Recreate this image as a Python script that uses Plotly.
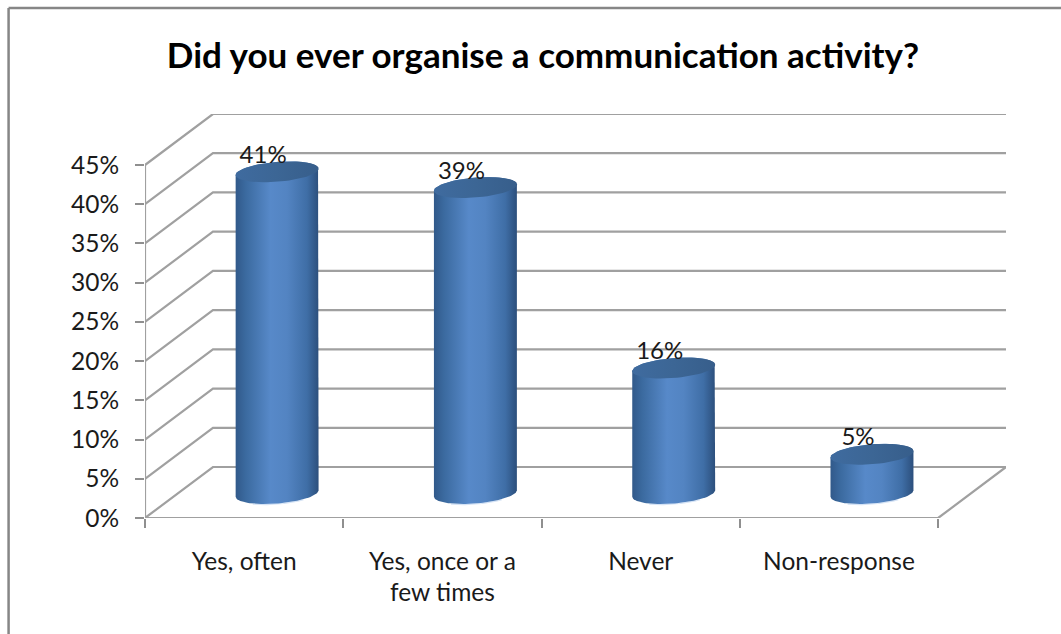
import numpy as np
import plotly.graph_objects as go

# Survey results
categories = ["Yes, often", "Yes, once or a<br>few times", "Never", "Non-response"]
shares = [41, 39, 16, 5]
value_ticks = [0, 5, 10, 15, 20, 25, 30, 35, 40, 45]
value_tick_labels = ["0%", "5%", "10%", "15%", "20%", "25%", "30%", "35%", "40%", "45%"]

FONT = "Lato"
GRID = "#a0a0a0"
WIDTH, HEIGHT = 1061, 634
LEFT, RIGHT, TOP, BOTTOM = 144.5, 55, 114, 116

# Scale of the plotting area, pixels per axis unit
PX_X = 198.4
PX_Y = 353 / 45
plot_w = WIDTH - LEFT - RIGHT
plot_h = HEIGHT - TOP - BOTTOM

# Oblique depth of the floor and back wall, in axis units
DEPTH_X = 68 / PX_X
DEPTH_Y = 51 / PX_Y

# Cylinder cross-section, in axis units
ELL_A = 41.5 / PX_X
ELL_TILT = 3.2 / PX_Y
ELL_B = 10 / PX_Y

fig = go.Figure()


def line(xs, ys, color=GRID, width=2.2):
    fig.add_trace(go.Scatter(x=xs, y=ys, mode="lines", showlegend=False, hoverinfo="skip",
                             line=dict(color=color, width=width), cliponaxis=False))


# Back wall gridlines and the diagonals on the side wall
for v in value_ticks:
    line([0, DEPTH_X, len(categories) + DEPTH_X], [v, v + DEPTH_Y, v + DEPTH_Y])

# Front edge of the floor, right-hand floor edge and the value axis
line([0, len(categories), len(categories) + DEPTH_X], [0, 0, DEPTH_Y])
line([0, 0], [0, 45])

BODY_SCALE = [[0, "#31598a"], [0.12, "#3b6a9f"], [0.42, "#5789c9"], [0.62, "#5384c2"],
              [0.86, "#3f6ea6"], [1, "#2c4f7c"]]


def section(cx, cy, start, stop):
    t = np.linspace(start, stop, 60)
    return cx + ELL_A * np.cos(t), cy + ELL_TILT * np.cos(t) + ELL_B * np.sin(t)


# Cylinders stand in the middle of the floor depth
label_x, label_y = [], []
for i, value in enumerate(shares):
    cx = i + 0.5 + DEPTH_X / 2 - 1 / PX_X
    base = DEPTH_Y / 2 - 1.0 / PX_Y
    top = base + value

    # Light rim under the front of the base
    rx, ry = section(cx, base - 0.08, 1.3 * np.pi, 1.72 * np.pi)
    line(rx, ry, color="#d5e3f5", width=1.2)

    bx, by = section(cx, base, np.pi, 2 * np.pi)
    tx, ty = section(cx, top, 0, np.pi)
    fig.add_trace(go.Scatter(x=np.r_[bx, tx], y=np.r_[by, ty], mode="lines", fill="toself",
                             line=dict(width=0), showlegend=False, hoverinfo="skip",
                             fillgradient=dict(type="horizontal", colorscale=BODY_SCALE)))

    ex, ey = section(cx, top, 0, 2 * np.pi)
    fig.add_trace(go.Scatter(x=ex, y=ey, mode="lines", fill="toself", showlegend=False,
                             hoverinfo="skip", line=dict(width=0),
                             fillgradient=dict(type="horizontal", colorscale=[
                                 [0, "#3f6b9f"], [0.5, "#3c6695"], [1, "#375e8b"]])))

    label_x.append(cx - 14 / PX_X)
    label_y.append(top + 15 / PX_Y)

fig.add_trace(go.Scatter(x=label_x, y=label_y, mode="text", showlegend=False, hoverinfo="skip",
                         text=[f"{v}%" for v in shares], textposition="middle center",
                         textfont=dict(family=FONT, size=24, color="#1a1a1a"), cliponaxis=False))

frame = dict(type="line", xref="paper", yref="paper", line=dict(color="#868686", width=2.5))
left_edge = (8 - LEFT) / plot_w
top_edge = (HEIGHT - BOTTOM - 8) / plot_h
fig.update_layout(
    width=WIDTH, height=HEIGHT, autosize=False,
    margin=dict(l=LEFT, r=RIGHT, t=TOP, b=BOTTOM, pad=0),
    paper_bgcolor="white", plot_bgcolor="white",
    font=dict(family=FONT, size=24.5, color="#1a1a1a"),
    title=dict(text="<b>Did you ever organise a communication activity?</b>",
               x=543 / WIDTH, xanchor="center", y=1 - 56 / HEIGHT, yanchor="middle",
               font=dict(family=FONT, size=35, color="black")),
    shapes=[
        dict(frame, x0=left_edge, x1=(WIDTH - LEFT) / plot_w, y0=top_edge, y1=top_edge),
        dict(frame, x0=left_edge, x1=left_edge, y0=top_edge, y1=-BOTTOM / plot_h),
    ],
    xaxis=dict(range=[0, plot_w / PX_X], showgrid=False, zeroline=False, showline=False,
               tickmode="array", tickvals=[i + 0.5 for i in range(len(categories))],
               ticktext=categories, ticks="", ticklabelstandoff=26,
               minor=dict(tickmode="array", tickvals=list(range(len(categories) + 1)),
                          ticks="outside", ticklen=9, tickwidth=2, tickcolor="#8f8f8f")),
    yaxis=dict(range=[0, plot_h / PX_Y], showgrid=False, zeroline=False, showline=False,
               tickmode="array", tickvals=value_ticks, ticktext=value_tick_labels, ticks="outside",
               ticklen=9, tickwidth=2, tickcolor="#8f8f8f", ticklabelstandoff=11),
)

fig.write_html("out.html")
